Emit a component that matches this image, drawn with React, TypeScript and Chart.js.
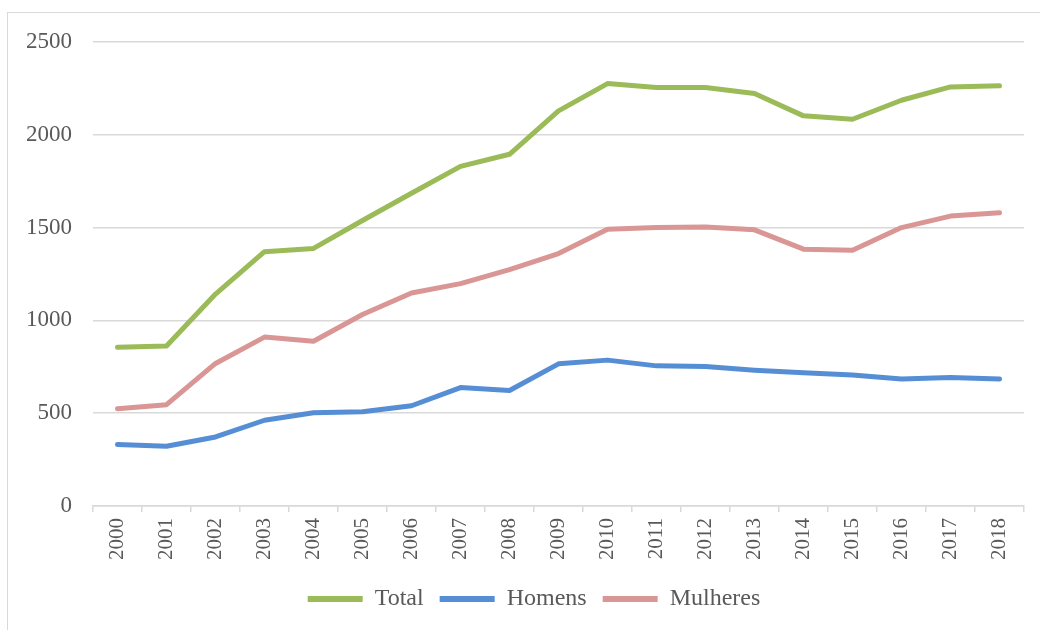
import React, { useEffect, useRef } from "react";
import { Chart, registerables } from "chart.js";

Chart.register(...registerables);

const categories = ["2000","2001","2002","2003","2004","2005","2006","2007","2008","2009","2010","2011","2012","2013","2014","2015","2016","2017","2018"];
const totalValues = [855, 862, 1142, 1370, 1388, 1538, 1685, 1830, 1895, 2129, 2276, 2255, 2255, 2222, 2102, 2084, 2186, 2258, 2264];
const homensValues = [332, 322, 372, 462, 502, 508, 540, 638, 622, 766, 786, 755, 751, 732, 718, 706, 684, 692, 684];
const mulheresValues = [524, 546, 768, 910, 888, 1032, 1148, 1198, 1274, 1360, 1491, 1500, 1503, 1488, 1384, 1378, 1500, 1562, 1580];
const seriesNames = ["Total", "Homens", "Mulheres"];
const seriesColors = ["#9BBB59", "#558ED5", "#D99694"];
const yTicks = { min: 0, max: 2500, step: 500 };

const FONT = "'Liberation Serif', 'Times New Roman', serif";
const TEXT = "#595959";
const GRID = "#d9d9d9";

const legendShift = {
  id: "legendShift",
  afterLayout(chart: any) {
    const l = chart.legend;
    if (l) {
      l.left += 22;
      l.right += 22;
    }
  },
};

export default function App() {
  const ref = useRef<HTMLCanvasElement | null>(null);

  useEffect(() => {
    if (!ref.current) return;
    const values = [totalValues, homensValues, mulheresValues];
    const chart = new Chart(ref.current, {
      type: "line",
      data: {
        labels: categories,
        datasets: seriesNames.map((name, i) => ({
          label: name,
          data: values[i],
          borderColor: seriesColors[i],
          backgroundColor: seriesColors[i],
          borderWidth: 5,
          borderCapStyle: "round" as const,
          borderJoinStyle: "round" as const,
          pointRadius: 0,
          pointHoverRadius: 0,
          tension: 0,
          fill: false,
        })),
      },
      plugins: [legendShift],
      options: {
        animation: false,
        responsive: true,
        maintainAspectRatio: false,
        layout: { padding: { left: 0, right: 16, top: 42, bottom: 9 } },
        plugins: {
          tooltip: { enabled: false },
          legend: {
            position: "bottom",
            labels: {
              color: TEXT,
              font: { family: FONT, size: 24 },
              boxWidth: 55,
              boxHeight: 6,
              padding: 16,
              useBorderRadius: true,
              borderRadius: 3,
              generateLabels: (c: any) =>
                c.data.datasets.map((ds: any, i: number) => ({
                  text: ds.label,
                  fillStyle: ds.borderColor,
                  strokeStyle: ds.borderColor,
                  lineWidth: 0,
                  fontColor: TEXT,
                  hidden: false,
                  datasetIndex: i,
                })),
            },
          },
        },
        scales: {
          x: {
            type: "category",
            offset: true,
            grid: {
              offset: true,
              drawOnChartArea: false,
              drawTicks: true,
              tickLength: 6,
              color: GRID,
              lineWidth: 1.5,
            },
            border: { display: true, color: GRID, width: 1.5 },
            ticks: {
              color: TEXT,
              font: { family: FONT, size: 21 },
              minRotation: 90,
              maxRotation: 90,
              padding: 6,
              autoSkip: false,
            },
            afterFit: (s: any) => {
              s.height = 65;
            },
          },
          y: {
            min: yTicks.min,
            max: yTicks.max,
            ticks: {
              stepSize: yTicks.step,
              color: TEXT,
              font: { family: FONT, size: 23 },
              padding: 21,
              callback: (v: any) => String(v),
            },
            grid: { color: GRID, lineWidth: 1.5, drawTicks: false },
            border: { display: false },
            afterFit: (s: any) => {
              s.width = 93;
            },
          },
        },
      },
    });
    return () => chart.destroy();
  }, []);

  return (
    <div>
      <div style={{ position: "fixed", left: 0, top: 0, width: 1040, height: 630, background: "#fff" }}>
        <canvas ref={ref} />
      </div>
      <div
        style={{
          position: "fixed",
          left: 7,
          top: 12,
          width: 1033,
          height: 618,
          boxSizing: "border-box",
          borderLeft: "1px solid #d9d9d9",
          borderTop: "1px solid #d9d9d9",
          pointerEvents: "none",
        }}
      />
    </div>
  );
}
